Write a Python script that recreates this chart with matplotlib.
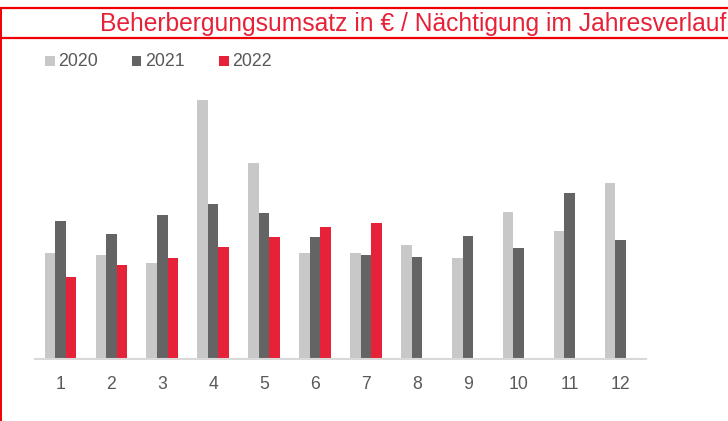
import matplotlib
matplotlib.use("Agg")
import matplotlib.pyplot as plt
from matplotlib.lines import Line2D
from matplotlib.patches import Rectangle
import numpy as np

plt.rcParams['font.family'] = ['Liberation Sans', 'DejaVu Sans']

months = ['1', '2', '3', '4', '5', '6', '7', '8', '9', '10', '11', '12']
years = ['2020', '2021', '2022']
v2020 = [105.7, 104.0, 95.7, 259.3, 195.7, 105.7, 106.3, 113.7, 101.0, 147.3, 127.7, 175.7]
v2021 = [138.3, 125.3, 143.7, 155.3, 146.0, 122.0, 104.0, 102.0, 123.3, 111.3, 165.7, 119.3]
v2022 = [81.7, 94.0, 100.7, 112.0, 121.7, 132.3, 135.7, None, None, None, None, None]
series = [v2020, v2021, v2022]
colors = ['#c8c8c8', '#646464', '#e52238']
title = 'Beherbergungsumsatz in € / Nächtigung im Jahresverlauf'

W, H = 728, 421
fig = plt.figure(figsize=(W / 100, H / 100), dpi=100)
fig.patch.set_facecolor('white')

ax_left, ax_right, ax_bottom, ax_top = 35, 646, 359, 80
ax = fig.add_axes([ax_left / W, (H - ax_bottom) / H, (ax_right - ax_left) / W, (ax_bottom - ax_top) / H])

x = np.arange(len(months))
bw = 0.207
for i, (vals, c) in enumerate(zip(series, colors)):
    xs = [xi + (i - 1) * bw for xi, v in zip(x, vals) if v is not None]
    ys = [v for v in vals if v is not None]
    ax.bar(xs, ys, width=bw, color=c, edgecolor='none', zorder=2)

ax.set_xlim(-0.5, len(months) - 0.5)
ax.set_ylim(0, ax_bottom - ax_top)
ax.set_xticks(x)
ax.set_xticklabels(months)
ax.tick_params(axis='x', length=0, pad=12, labelsize=12.7, labelcolor='#595959')
ax.set_yticks([])
for s in ['top', 'right', 'left']:
    ax.spines[s].set_visible(False)
ax.spines['bottom'].set_color('#d9d9d9')
ax.spines['bottom'].set_linewidth(1.5)
ax.set_facecolor('none')

# Title
fig.text(726 / W, (H - 31.5) / H, title, ha='right', va='baseline',
         fontsize=17.7, color='#e52238')

# Border lines
red = '#f00000'
fig.add_artist(Line2D([0, 1], [(H - 7.5) / H] * 2, color=red, lw=1.6, transform=fig.transFigure))
fig.add_artist(Line2D([0, 1], [(H - 37.5) / H] * 2, color=red, lw=1.6, transform=fig.transFigure))
fig.add_artist(Line2D([0.8 / W] * 2, [0, (H - 7.5) / H], color=red, lw=1.4, transform=fig.transFigure))

# Legend
leg_x = [45, 131.7, 219]
for lx, name, c in zip(leg_x, years, colors):
    fig.add_artist(Rectangle((lx / W, (H - 65.7) / H), 9.5 / W, 9.5 / H,
                             transform=fig.transFigure, facecolor=c, edgecolor='none'))
    fig.text((lx + 13.5) / W, (H - 61) / H, name, ha='left', va='center',
             fontsize=12.8, color='#595959')

fig.savefig('out.png', dpi=100)
